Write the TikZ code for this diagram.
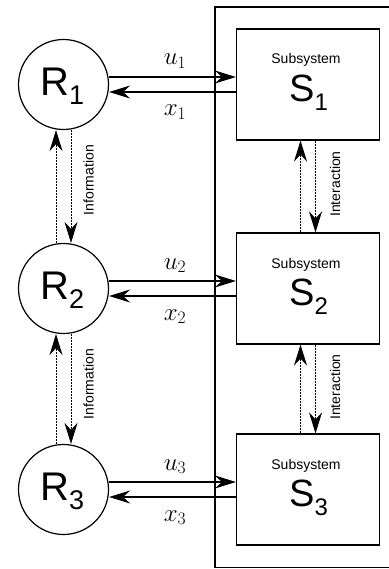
\RequirePackage{fix-cm}
\documentclass[tikz,border=0pt]{standalone}
\usepackage{fontspec}
\setsansfont{Liberation Sans}
\usetikzlibrary{arrows.meta}
\newcommand\sbs[3]{#1\raisebox{-9pt}{\fontsize{#3}{#3}\selectfont #2}}
\tikzset{
  ctrl/.style={circle, draw, line width=1.2pt, minimum size=90pt, inner sep=0pt},
  subsys/.style={rectangle, draw, line width=1.2pt, minimum width=143pt, minimum height=111pt, inner sep=0pt},
  sig/.style={line width=1.2pt, -{Stealth[length=21pt,width=13pt,inset=7pt]}},
  link/.style={sig, line width=0.9pt, dash pattern=on 2pt off 1pt},
  bigtxt/.style={font=\sffamily\fontsize{40}{40}\selectfont, inner sep=0pt, anchor=base west},
  smalltxt/.style={font=\sffamily\fontsize{14}{14}\selectfont, inner sep=0pt, anchor=base},
  sidetxt/.style={smalltxt, rotate=90},
  mathtxt/.style={font=\fontsize{25}{25}\selectfont, inner sep=0pt, anchor=base}
}
\begin{document}
\begin{tikzpicture}[x=1pt,y=-1pt]
\useasboundingbox (0,0) rectangle (388,569);
\draw[line width=1.2pt] (215,7) rectangle (400,567.5);
 % regulators
\node[ctrl] (R1) at (63.5,84.5) {};
\node[ctrl] (R2) at (63.5,288.5) {};
\node[ctrl] (R3) at (63.5,489.5) {};
\node[bigtxt] (tR1) at (40,95.5) {\sbs{R}{1}{27}};
\node[bigtxt] (tR2) at (40,299.5) {\sbs{R}{2}{27}};
\node[bigtxt] (tR3) at (40,500.5) {\sbs{R}{3}{27}};
 % subsystems
\node[subsys] (S1) at (308,84.5) {};
\node[subsys] (S2) at (308,288.5) {};
\node[subsys] (S3) at (308,489.5) {};
\node[smalltxt] (sub1) at (306,64) {Subsystem};
\node[smalltxt] (sub2) at (306,268) {Subsystem};
\node[smalltxt] (sub3) at (306,469) {Subsystem};
\node[bigtxt, font=\sffamily\fontsize{38}{38}\selectfont] (tS1) at (289,101.5) {\sbs{S}{1}{24}};
\node[bigtxt, font=\sffamily\fontsize{38}{38}\selectfont] (tS2) at (289,305.5) {\sbs{S}{2}{24}};
\node[bigtxt, font=\sffamily\fontsize{38}{38}\selectfont] (tS3) at (289,506.5) {\sbs{S}{3}{24}};
 % inputs and states
\draw[sig] ([yshift=7.5pt]R1.east) -- ([yshift=7.5pt]S1.west);
\draw[sig] ([yshift=-7.5pt]S1.west) -- ([yshift=-7.5pt]R1.east);
\draw[sig] ([yshift=7.5pt]R2.east) -- ([yshift=7.5pt]S2.west);
\draw[sig] ([yshift=-7.5pt]S2.west) -- ([yshift=-7.5pt]R2.east);
\draw[sig] ([yshift=7.5pt]R3.east) -- ([yshift=7.5pt]S3.west);
\draw[sig] ([yshift=-7.5pt]S3.west) -- ([yshift=-7.5pt]R3.east);
\node[mathtxt] (u1) at (175,65) {$u_1$};
\node[mathtxt] (x1) at (175,116) {$x_1$};
\node[mathtxt] (u2) at (175,269) {$u_2$};
\node[mathtxt] (x2) at (175,320) {$x_2$};
\node[mathtxt] (u3) at (175,470) {$u_3$};
\node[mathtxt] (x3) at (175,521) {$x_3$};
 % information exchange
\draw[link] ([xshift=-7.5pt]R2.north) -- ([xshift=-7.5pt]R1.south);
\draw[link] ([xshift=7.5pt]R1.south) -- ([xshift=7.5pt]R2.north);
\draw[link] ([xshift=-7.5pt]R3.north) -- ([xshift=-7.5pt]R2.south);
\draw[link] ([xshift=7.5pt]R2.south) -- ([xshift=7.5pt]R3.north);
\node[sidetxt] (inf1) at (93.5,180) {Information};
\node[sidetxt] (inf2) at (93.5,384) {Information};
 % interaction
\draw[link] ([xshift=-7.5pt]S2.north) -- ([xshift=-7.5pt]S1.south);
\draw[link] ([xshift=7.5pt]S1.south) -- ([xshift=7.5pt]S2.north);
\draw[link] ([xshift=-7.5pt]S3.north) -- ([xshift=-7.5pt]S2.south);
\draw[link] ([xshift=7.5pt]S2.south) -- ([xshift=7.5pt]S3.north);
\node[sidetxt] (int1) at (340,184) {Interaction};
\node[sidetxt] (int2) at (340,387) {Interaction};
\end{tikzpicture}
\end{document}
